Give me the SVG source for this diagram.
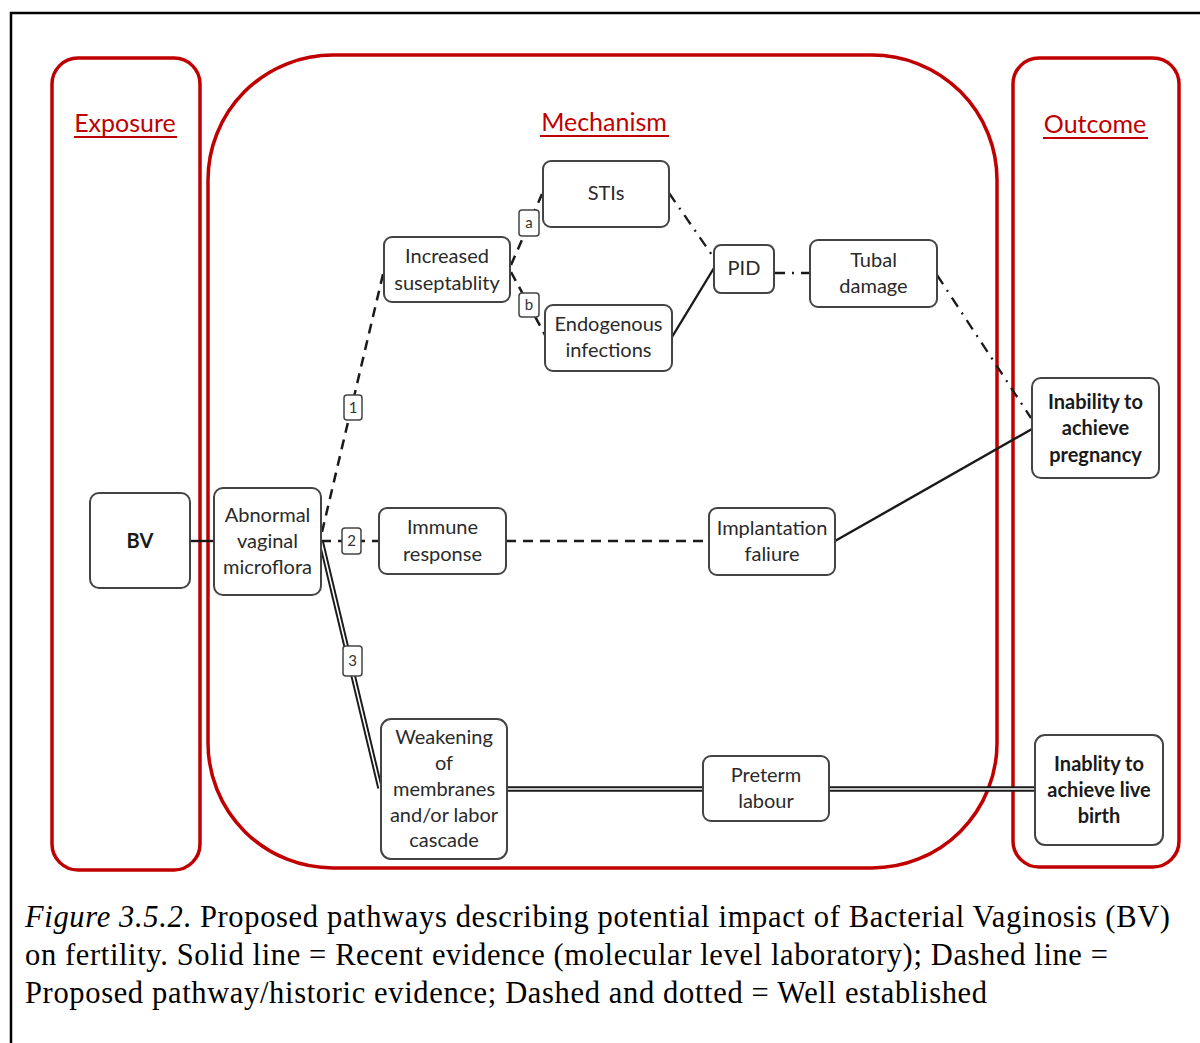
<svg xmlns="http://www.w3.org/2000/svg" width="1200" height="1043" viewBox="0 0 1200 1043">
<style>
.frame{fill:none;stroke:#000;stroke-width:2.5}
.zone{fill:none;stroke:#c00000;stroke-width:3.5}
.ztitle{font-family:Lato,"Liberation Sans",sans-serif;font-size:25px;fill:#c00000;text-anchor:middle}
.zul{stroke:#c00000;stroke-width:2}
.box{fill:#fff;stroke:#444;stroke-width:2}
.t{font-family:Lato,"Liberation Sans",sans-serif;font-size:20px;fill:#2a2a2a;text-anchor:middle}
.tb{font-family:Lato,"Liberation Sans",sans-serif;font-size:20px;font-weight:bold;fill:#1a1a1a;text-anchor:middle}
.lbl{fill:#fff;stroke:#444;stroke-width:1.5}
.lt{font-family:Lato,"Liberation Sans",sans-serif;font-size:15px;fill:#333;text-anchor:middle}
.solid{fill:none;stroke:#1a1a1a;stroke-width:2.4}
.dash{fill:none;stroke:#1a1a1a;stroke-width:2.5;stroke-dasharray:10 7}
.dashdot{fill:none;stroke:#1a1a1a;stroke-width:2.3;stroke-dasharray:11 7 2 7}
.dblo{fill:none;stroke:#1a1a1a;stroke-width:5.5}
.dbli{fill:none;stroke:#fff;stroke-width:1.6}
.cap{font-family:"Liberation Serif","Times New Roman",serif;font-size:30.5px;fill:#000}
</style>

<!-- outer frame -->
<path class="frame" d="M11,1043 V13 H1200"/>

<!-- zones -->
<g id="zone-exposure">
<rect class="zone" x="52" y="58" width="148" height="812" rx="26"/>
<text class="ztitle" x="125" y="132">Exposure</text>
<line class="zul" x1="74" y1="137" x2="177" y2="137"/>
</g>
<g id="zone-mechanism">
<rect class="zone" x="208" y="55" width="789" height="813" rx="125"/>
<text class="ztitle" x="604" y="131">Mechanism</text>
<line class="zul" x1="540" y1="136" x2="669" y2="136"/>
</g>
<g id="zone-outcome">
<rect class="zone" x="1013" y="58" width="166" height="809" rx="26"/>
<text class="ztitle" x="1095" y="133">Outcome</text>
<line class="zul" x1="1043" y1="138" x2="1148" y2="138"/>
</g>

<!-- connectors -->
<g id="connectors">
<line class="solid" x1="190" y1="541" x2="214" y2="541"/>
<line class="dash" x1="322" y1="532" x2="384" y2="270"/>
<line class="dash" x1="321" y1="541" x2="379" y2="541"/>
<line class="dash" x1="506" y1="541" x2="709" y2="541"/>
<line class="dblo" x1="321" y1="541" x2="380" y2="788"/>
<line class="dbli" x1="321" y1="541" x2="380" y2="788"/>
<line class="dblo" x1="507" y1="789" x2="703" y2="789"/>
<line class="dbli" x1="507" y1="789" x2="703" y2="789"/>
<line class="dblo" x1="829" y1="789" x2="1035" y2="789"/>
<line class="dbli" x1="829" y1="789" x2="1035" y2="789"/>
<line class="dash" x1="511" y1="265" x2="542" y2="194"/>
<line class="dash" x1="511" y1="272" x2="545" y2="335"/>
<line class="dashdot" x1="669" y1="193" x2="714" y2="258"/>
<line class="solid" x1="672" y1="337" x2="714" y2="268"/>
<line class="dashdot" x1="774" y1="273" x2="810" y2="273"/>
<line class="dashdot" x1="937" y1="275" x2="1031" y2="418"/>
<line class="solid" x1="835" y1="541" x2="1032" y2="429"/>
</g>

<!-- path labels -->
<g id="label-1"><rect class="lbl" x="344" y="395" width="18" height="25" rx="3"/><text class="lt" x="353" y="413">1</text></g>
<g id="label-2"><rect class="lbl" x="342" y="528" width="19" height="26" rx="3"/><text class="lt" x="351.5" y="546">2</text></g>
<g id="label-3"><rect class="lbl" x="343" y="646" width="19" height="30" rx="3"/><text class="lt" x="352.5" y="666">3</text></g>
<g id="label-a"><rect class="lbl" x="519" y="210" width="20" height="26" rx="3"/><text class="lt" x="529" y="228">a</text></g>
<g id="label-b"><rect class="lbl" x="519" y="293" width="20" height="24" rx="3"/><text class="lt" x="529" y="310">b</text></g>

<!-- nodes -->
<g id="node-bv"><rect class="box" x="90" y="493" width="100" height="95" rx="9"/><text class="tb" x="140" y="548">BV</text></g>
<g id="node-abnormal"><rect class="box" x="214" y="488" width="107" height="107" rx="9"/>
<text class="t" x="267.5" y="522">Abnormal</text><text class="t" x="267.5" y="548">vaginal</text><text class="t" x="267.5" y="574">microflora</text></g>
<g id="node-increased"><rect class="box" x="384" y="237" width="126" height="65" rx="8"/>
<text class="t" x="447" y="263">Increased</text><text class="t" x="447" y="290">suseptablity</text></g>
<g id="node-stis"><rect class="box" x="543" y="161" width="126" height="66" rx="8"/>
<text class="t" x="606" y="200">STIs</text></g>
<g id="node-endogenous"><rect class="box" x="545" y="305" width="127" height="66" rx="8"/>
<text class="t" x="608.5" y="331">Endogenous</text><text class="t" x="608.5" y="357">infections</text></g>
<g id="node-pid"><rect class="box" x="714" y="245" width="60" height="48" rx="7"/>
<text class="t" x="744" y="275">PID</text></g>
<g id="node-tubal"><rect class="box" x="810" y="240" width="127" height="67" rx="8"/>
<text class="t" x="873.5" y="267">Tubal</text><text class="t" x="873.5" y="293">damage</text></g>
<g id="node-immune"><rect class="box" x="379" y="508" width="127" height="66" rx="8"/>
<text class="t" x="442.5" y="534">Immune</text><text class="t" x="442.5" y="561">response</text></g>
<g id="node-implantation"><rect class="box" x="709" y="508" width="126" height="67" rx="8"/>
<text class="t" x="772" y="535">Implantation</text><text class="t" x="772" y="561">faliure</text></g>
<g id="node-weakening"><rect class="box" x="381" y="719" width="126" height="140" rx="10"/>
<text class="t" x="444" y="744">Weakening</text><text class="t" x="444" y="770">of</text><text class="t" x="444" y="796">membranes</text><text class="t" x="444" y="822">and/or labor</text><text class="t" x="444" y="847">cascade</text></g>
<g id="node-preterm"><rect class="box" x="703" y="756" width="126" height="65" rx="8"/>
<text class="t" x="766" y="782">Preterm</text><text class="t" x="766" y="808">labour</text></g>
<g id="node-pregnancy"><rect class="box" x="1032" y="378" width="127" height="100" rx="9"/>
<text class="tb" x="1095.5" y="409">Inability to</text><text class="tb" x="1095.5" y="435">achieve</text><text class="tb" x="1095.5" y="462">pregnancy</text></g>
<g id="node-livebirth"><rect class="box" x="1035" y="735" width="128" height="110" rx="10"/>
<text class="tb" x="1099" y="771">Inablity to</text><text class="tb" x="1099" y="797">achieve live</text><text class="tb" x="1099" y="823">birth</text></g>

<!-- caption -->
<g id="caption">
<text class="cap" x="25" y="927" textLength="1145" lengthAdjust="spacing"><tspan font-style="italic">Figure 3.5.2</tspan>. Proposed pathways describing potential impact of Bacterial Vaginosis (BV)</text>
<text class="cap" x="25" y="965" textLength="1083" lengthAdjust="spacing">on fertility. Solid line = Recent evidence (molecular level laboratory); Dashed line =</text>
<text class="cap" x="25" y="1003" textLength="962" lengthAdjust="spacing">Proposed pathway/historic evidence; Dashed and dotted = Well established</text>
</g>
</svg>
